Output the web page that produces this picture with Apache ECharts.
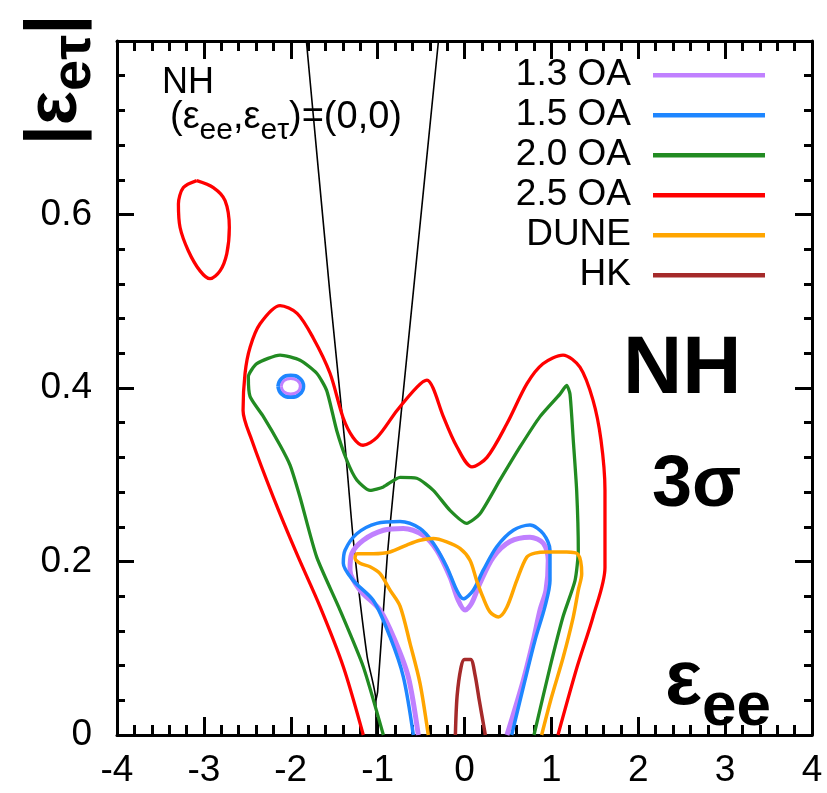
<!DOCTYPE html>
<html><head><meta charset="utf-8">
<script src="https://cdn.jsdelivr.net/npm/echarts@6/dist/echarts.min.js"></script>
<style>html,body{margin:0;padding:0;background:#fff}#c{width:827px;height:793px}</style>
</head><body><div id="c"></div>
<script>
// ---- data (epsilon_ee, |epsilon_e tau|) ----
const legendNames = ['1.3 OA', '1.5 OA', '2.0 OA', '2.5 OA', 'DUNE', 'HK'];
const yTickLabels = ['0', '0.2', '0.4', '0.6'];

const oa13 = [[-0.532,0],[-0.647,0.067],[-0.800,0.109],[-0.972,0.144],[-1.203,0.167],[-1.318,0.190],[-1.298,0.209],[-1.165,0.2245],[-0.934,0.236],[-0.704,0.238],[-0.474,0.230],[-0.320,0.213],[-0.167,0.182],[-0.071,0.155],[0.006,0.144],[0.083,0.152],[0.178,0.175],[0.331,0.205],[0.524,0.223],[0.754,0.228],[0.907,0.221],[0.964,0.2015],[0.938,0.167],[0.869,0.144],[0.792,0.109],[0.677,0.063],[0.489,0]];
const oa13Ring = [[-2.11,0.402],[-2.078,0.4085],[-2.0,0.411],[-1.922,0.4085],[-1.89,0.402],[-1.922,0.3955],[-2.0,0.393],[-2.078,0.3955],[-2.11,0.402]];

const oa15 = [[-0.589,0],[-0.704,0.067],[-0.857,0.113],[-1.049,0.155],[-1.280,0.178],[-1.395,0.198],[-1.375,0.213],[-1.240,0.232],[-1.010,0.244],[-0.742,0.246],[-0.512,0.238],[-0.359,0.221],[-0.205,0.194],[-0.090,0.167],[-0.014,0.157],[0.101,0.167],[0.216,0.190],[0.371,0.217],[0.562,0.236],[0.754,0.242],[0.907,0.232],[0.984,0.213],[0.984,0.178],[0.926,0.148],[0.811,0.109],[0.696,0.063],[0.543,0]];
const oa15Ring = [[-2.145,0.402],[-2.103,0.411],[-2.0,0.4145],[-1.897,0.411],[-1.855,0.402],[-1.897,0.393],[-2.0,0.3895],[-2.103,0.393],[-2.145,0.402]];

const oa20 = [[-0.934,0],[-1.165,0.0787],[-1.433,0.144],[-1.701,0.205],[-1.893,0.274],[-2.008,0.311],[-2.123,0.334],[-2.315,0.367],[-2.468,0.390],[-2.488,0.413],[-2.391,0.428],[-2.123,0.438],[-1.893,0.432],[-1.701,0.417],[-1.586,0.397],[-1.471,0.351],[-1.356,0.317],[-1.240,0.294],[-1.087,0.282],[-0.934,0.286],[-0.742,0.297],[-0.550,0.296],[-0.359,0.282],[-0.167,0.259],[0.025,0.244],[0.178,0.255],[0.409,0.294],[0.639,0.332],[0.869,0.367],[1.099,0.393],[1.176,0.403],[1.214,0.393],[1.252,0.340],[1.291,0.282],[1.310,0.213],[1.272,0.178],[1.133,0.136],[0.984,0.078],[0.800,0]];

const oa25 = [[-1.165,0],[-1.395,0.0787],[-1.663,0.148],[-1.931,0.209],[-2.200,0.274],[-2.449,0.340],[-2.549,0.374],[-2.526,0.417],[-2.468,0.447],[-2.353,0.474],[-2.123,0.495],[-1.927,0.486],[-1.743,0.458],[-1.548,0.417],[-1.398,0.366],[-1.283,0.343],[-1.168,0.334],[-1.007,0.343],[-0.777,0.374],[-0.547,0.401],[-0.432,0.409],[-0.362,0.400],[-0.247,0.368],[-0.086,0.332],[0.086,0.309],[0.259,0.320],[0.489,0.359],[0.719,0.405],[0.903,0.428],[1.134,0.438],[1.329,0.424],[1.479,0.386],[1.571,0.340],[1.617,0.282],[1.617,0.193],[1.479,0.136],[1.295,0.078],[1.076,0]];
const oa25Island = [[-3.082,0.639],[-2.891,0.631],[-2.756,0.616],[-2.707,0.585],[-2.736,0.555],[-2.814,0.535],[-2.929,0.526],[-3.044,0.535],[-3.178,0.558],[-3.274,0.585],[-3.293,0.612],[-3.236,0.631],[-3.082,0.639]];

const dune = [[-0.417,0],[-0.512,0.0595],[-0.627,0.1056],[-0.742,0.1486],[-0.857,0.167],[-0.972,0.186],[-1.087,0.194],[-1.203,0.198],[-1.260,0.204],[-1.237,0.209],[-1.049,0.209],[-0.857,0.211],[-0.665,0.219],[-0.512,0.2245],[-0.359,0.2265],[-0.205,0.2226],[-0.052,0.215],[0.063,0.2015],[0.140,0.178],[0.216,0.158],[0.293,0.142],[0.389,0.136],[0.486,0.147],[0.601,0.178],[0.716,0.205],[0.811,0.2096],[0.946,0.211],[1.176,0.211],[1.306,0.2084],[1.349,0.186],[1.310,0.167],[1.252,0.136],[1.137,0.090],[1.003,0.044],[0.888,0]];

const hk = [[-0.105,0],[-0.085,0.045],[-0.04,0.078],[0.0,0.087],[0.07,0.087],[0.12,0.07],[0.17,0.04],[0.24,0]];

const degLineA = [[-1.82,0.8],[-1.55,0.51],[-1.38,0.34],[-1.28,0.225],[-1.12,0.09],[-1.02,0.04],[-1.02,0]];
const degLineB = [[-0.30,0.8],[-0.59,0.51],[-0.71,0.39],[-0.82,0.28],[-0.89,0.205],[-1.0,0.05],[-1.02,0.04]];

// ---- styling ----
const colors = {'1.3 OA':'#c080ff','1.5 OA':'#1e86ff','2.0 OA':'#228b22','2.5 OA':'#ff0000','DUNE':'#ffa500','HK':'#a52a2a'};
const FONT = 'Liberation Sans';

function curve(name, data, width, z, smooth) {
  return {
    type: 'line', name: name, data: data, color: colors[name],
    showSymbol: false, symbol: 'none', smooth: smooth === undefined ? 0.3 : smooth,
    lineStyle: {color: colors[name], width: width}, itemStyle: {color: colors[name]},
    z: z, silent: true, clip: true
  };
}
function blackLine(data) {
  return {type:'line', data:data, showSymbol:false, symbol:'none', smooth:0.2,
    lineStyle:{color:'#000', width:1.6}, z:1, silent:true, clip:true};
}

const tickStyle = {color:'#000', width:3};
function xAx(pos, showLabel) {
  return {type:'value', position:pos, min:-4, max:4, interval:1,
    axisLine:{show:true, onZero:false, lineStyle:{color:'#000', width:3}},
    axisTick:{show:true, inside:true, length:18, lineStyle:tickStyle},
    minorTick:{show:true, splitNumber:5, length:10, lineStyle:tickStyle},
    splitLine:{show:false}, minorSplitLine:{show:false},
    axisLabel:{show:showLabel, fontSize:37, color:'#000', fontFamily:FONT, margin:17}};
}
function yAx(pos, showLabel) {
  return {type:'value', position:pos, min:0, max:0.8, interval:0.2,
    axisLine:{show:true, onZero:false, lineStyle:{color:'#000', width:3}},
    axisTick:{show:true, inside:true, length:17, lineStyle:tickStyle},
    minorTick:{show:true, splitNumber:5, length:8, lineStyle:tickStyle},
    splitLine:{show:false}, minorSplitLine:{show:false},
    axisLabel:{show:showLabel, fontSize:37, color:'#000', fontFamily:FONT, margin:25,
      formatter: function (v) { const i = Math.round(v / 0.2); return yTickLabels[i] !== undefined ? yTickLabels[i] : ''; }}};
}

const chart = echarts.init(document.getElementById('c'), null, {renderer:'canvas'});
chart.setOption({
  animation: false,
  backgroundColor: '#fff',
  grid: {left:117, right:15, top:41, bottom:58, containLabel:false},
  xAxis: [xAx('bottom', true), xAx('top', false)],
  yAxis: [yAx('left', true), yAx('right', false)],
  legend: {
    data: legendNames, orient:'vertical', right:57, top:51, align:'right',
    icon:'rect', itemWidth:112, itemHeight:4.5, itemGap:1.6, selectedMode:false,
    textStyle:{fontSize:37, color:'#000', fontFamily:FONT, lineHeight:38.4, padding:[0,17,0,0]}
  },
  series: [
    curve('1.3 OA', oa13, 5, 4),
    curve('1.5 OA', oa15, 3.5, 5),
    curve('2.0 OA', oa20, 3.3, 3, 0.2),
    curve('2.5 OA', oa25, 3.3, 3),
    curve('DUNE', dune, 3.5, 6),
    curve('HK', hk, 3.5, 6),
    curve('2.5 OA', oa25Island, 3.3, 3),
    curve('1.5 OA', oa15Ring, 4, 5, 0.5),
    curve('1.3 OA', oa13Ring, 3, 6, 0.5),
    blackLine(degLineA),
    blackLine(degLineB)
  ],
  graphic: [
    {type:'text', x:162, y:83, z:10, style:{text:'NH', fontSize:36, fontFamily:FONT, fill:'#000', align:'left', verticalAlign:'middle'}},
    {type:'text', x:170, y:118, z:10, style:{
      text:'{m|(ε}{s|ee}{m|,ε}{s|eτ}{m|)=(0,0)}', align:'left', verticalAlign:'middle', fill:'#000',
      rich:{m:{fontSize:38, fontFamily:FONT, lineHeight:38, fill:'#000'},
            s:{fontSize:30, fontFamily:FONT, lineHeight:30, padding:[26,0,0,0], fill:'#000'}}}},
    {type:'text', x:623, y:370, z:10, style:{text:'NH', fontSize:82, fontWeight:'bold', fontFamily:FONT, fill:'#000', align:'left', verticalAlign:'middle'}},
    {type:'text', x:652, y:486, z:10, style:{text:'3σ', fontSize:72, fontWeight:'bold', fontFamily:FONT, fill:'#000', align:'left', verticalAlign:'middle'}},
    {type:'text', x:665, y:682, z:10, style:{
      text:'{m|ε}{s|ee}', align:'left', verticalAlign:'middle', fill:'#000',
      rich:{m:{fontSize:78, fontWeight:'bold', fontFamily:FONT, lineHeight:78, fill:'#000'},
            s:{fontSize:62, fontWeight:'bold', fontFamily:FONT, lineHeight:62, padding:[52,0,0,0], fill:'#000'}}}},
    {type:'text', x:56, y:80, rotation:Math.PI/2, z:10, style:{
      text:'{m|\u007Cε}{s|eτ}{m|\u007C}', align:'center', verticalAlign:'middle', fill:'#000',
      rich:{m:{fontSize:72, fontWeight:'bold', fontFamily:FONT, lineHeight:72, fill:'#000'},
            s:{fontSize:56, fontWeight:'bold', fontFamily:FONT, lineHeight:56, padding:[38,0,0,0], fill:'#000'}}}}
  ]
});
</script>
</body></html>
